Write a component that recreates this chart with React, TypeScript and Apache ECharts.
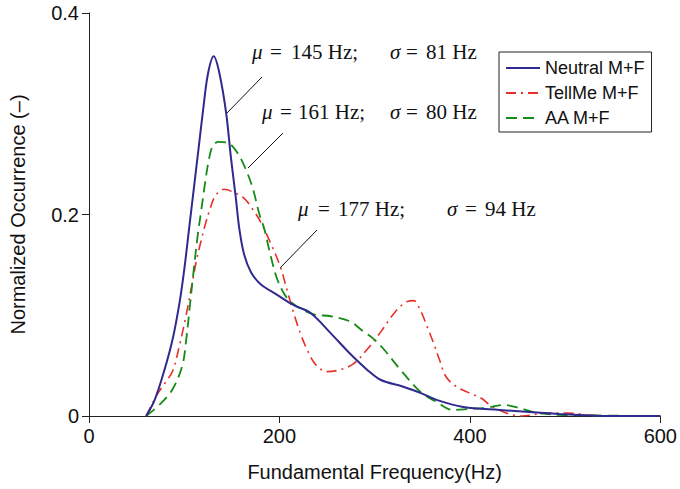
import React, { useEffect, useRef } from "react";
import * as echarts from "echarts";

const seriesNames = ["Neutral M+F", "TellMe M+F", "AA M+F"];

const neutralData: [number, number][] = [
  [60, 0], [69, 0.016], [79, 0.045], [88, 0.077], [95, 0.112], [100, 0.145], [105, 0.185],
  [110, 0.225], [115, 0.265], [120, 0.305], [125, 0.34], [131, 0.357], [137, 0.34],
  [144, 0.301], [149, 0.257], [154, 0.218], [158, 0.185], [163, 0.16], [170, 0.143],
  [180, 0.131], [198, 0.12], [215, 0.11], [233, 0.102], [254, 0.082], [274, 0.062],
  [292, 0.046], [306, 0.036], [330, 0.029], [348, 0.023], [365, 0.016], [393, 0.009],
  [431, 0.006], [494, 0.002], [540, 0], [600, 0],
];

const tellMeData: [number, number][] = [
  [60, 0], [72, 0.022], [80, 0.033], [88, 0.045], [95, 0.07], [102, 0.1], [108, 0.13],
  [113, 0.155], [118, 0.175], [123, 0.193], [128, 0.208], [133, 0.219], [142, 0.225],
  [152, 0.222], [163, 0.216], [172, 0.205], [180, 0.193], [191, 0.171], [201, 0.148],
  [208, 0.125], [215, 0.102], [222, 0.082], [229, 0.066], [238, 0.051], [250, 0.044],
  [264, 0.046], [278, 0.052], [292, 0.066], [306, 0.083], [323, 0.105], [334, 0.1135],
  [341, 0.1145], [348, 0.105], [355, 0.089], [362, 0.072], [368, 0.056], [375, 0.039],
  [386, 0.029], [400, 0.0225], [412, 0.0176], [421, 0.011], [438, 0.003], [455, 0],
  [480, 0.003], [501, 0.003], [525, 0.001], [545, 0], [600, 0],
];

const aaData: [number, number][] = [
  [60, 0], [76, 0.013], [88, 0.027], [98, 0.05], [102, 0.075], [106, 0.11], [110, 0.145],
  [114, 0.178], [118, 0.205], [122, 0.232], [126, 0.255], [130, 0.268], [136, 0.272],
  [146, 0.271], [156, 0.261], [165, 0.244], [172, 0.226], [179, 0.2], [184, 0.186], [191, 0.158],
  [198, 0.135], [208, 0.117], [219, 0.1085], [236, 0.101], [254, 0.099], [274, 0.094],
  [288, 0.084], [297, 0.078], [308, 0.068], [327, 0.046], [348, 0.024], [365, 0.014],
  [382, 0.006], [400, 0.007], [417, 0.008], [435, 0.011], [452, 0.008], [470, 0.003],
  [500, 0.001], [600, 0],
];

const annotations = [
  { mu: "145 Hz;", sigma: "81 Hz" },
  { mu: "161 Hz;", sigma: "80 Hz" },
  { mu: "177 Hz;", sigma: "94 Hz" },
];

export default function App() {
  const ref = useRef<HTMLDivElement>(null);

  useEffect(() => {
    document.body.style.margin = "0";
    if (!ref.current) return;
    const chart = echarts.init(ref.current, null, { renderer: "svg" });

    const sans = "'Liberation Sans', Arial, Helvetica, sans-serif";
    const serifFam = "'Liberation Serif', 'Times New Roman', serif";
    const italicFont = `italic 21px ${serifFam}`;
    const normalFont = `21px ${serifFam}`;

    // [muX, eqX, valX, sigmaX, eq2X, val2X, y]
    const annPos = [
      [252, 270, 291, 390, 406, 426, 52],
      [262, 280, 298, 390, 406, 426, 112],
      [298, 318, 338, 447, 465, 485, 209],
    ];
    const leaders = [
      [262, 77, 227, 113],
      [283, 133, 248, 168],
      [317, 230, 280, 268],
    ];

    const graphic: any[] = [];
    const txt = (x: number, y: number, text: string, font: string) => ({
      type: "text",
      x,
      y,
      style: { text, font, fill: "#111", verticalAlign: "middle" },
    });
    annotations.forEach((a, i) => {
      const p = annPos[i];
      graphic.push(txt(p[0], p[6], "μ", italicFont));
      graphic.push(txt(p[1], p[6], "=", normalFont));
      graphic.push(txt(p[2], p[6], a.mu, normalFont));
      graphic.push(txt(p[3], p[6], "σ", italicFont));
      graphic.push(txt(p[4], p[6], "=", normalFont));
      graphic.push(txt(p[5], p[6], a.sigma, normalFont));
      const l = leaders[i];
      graphic.push({
        type: "line",
        shape: { x1: l[0], y1: l[1], x2: l[2], y2: l[3] },
        style: { stroke: "#111", lineWidth: 1 },
      });
    });

    chart.setOption({
      animation: false,
      backgroundColor: "#fff",
      grid: { left: 87, right: 19, top: 13, bottom: 73 },
      legend: {
        orient: "vertical",
        left: 499,
        top: 52,
        data: seriesNames,
        itemWidth: 34,
        itemHeight: 14,
        itemGap: 7,
        padding: [7, 7, 5, 6],
        borderColor: "#222",
        borderWidth: 1,
        backgroundColor: "#fff",
        itemStyle: { opacity: 0 },
        textStyle: { fontFamily: sans, fontSize: 18, color: "#111" },
      },
      xAxis: {
        type: "value",
        min: 0,
        max: 600,
        interval: 200,
        name: "Fundamental Frequency(Hz)",
        nameLocation: "middle",
        nameGap: 46,
        nameTextStyle: { fontFamily: sans, fontSize: 20, color: "#111" },
        axisLine: { lineStyle: { color: "#222", width: 1 } },
        axisTick: { show: true, inside: false, length: 7, lineStyle: { color: "#222" } },
        axisLabel: { fontFamily: sans, fontSize: 20, color: "#111", margin: 10 },
        splitLine: { show: false },
      },
      yAxis: {
        type: "value",
        min: 0,
        max: 0.4,
        interval: 0.2,
        name: "Normalized Occurrence (–)",
        nameLocation: "middle",
        nameGap: 61,
        nameTextStyle: { fontFamily: sans, fontSize: 20, color: "#111" },
        axisLine: { show: true, lineStyle: { color: "#222", width: 1 } },
        axisTick: { show: true, inside: false, length: 7, lineStyle: { color: "#222" } },
        axisLabel: { fontFamily: sans, fontSize: 20, color: "#111", margin: 10 },
        splitLine: { show: false },
      },
      series: [
        {
          name: seriesNames[0],
          type: "line",
          data: neutralData,
          symbol: "none",
          smooth: 0.35,
          color: "#2f2a8e",
          lineStyle: { width: 2, color: "#2f2a8e" },
          z: 3,
        },
        {
          name: seriesNames[1],
          type: "line",
          data: tellMeData,
          symbol: "none",
          smooth: 0.35,
          color: "#e8302a",
          lineStyle: { width: 1.6, color: "#e8302a", type: [10, 5, 2, 5] },
          z: 2,
        },
        {
          name: seriesNames[2],
          type: "line",
          data: aaData,
          symbol: "none",
          smooth: 0.35,
          color: "#168a16",
          lineStyle: { width: 1.8, color: "#168a16", type: [11, 6] },
          z: 2,
        },
      ],
      graphic,
    });

    return () => chart.dispose();
  }, []);

  return <div ref={ref} style={{ width: 680, height: 489 }} />;
}
